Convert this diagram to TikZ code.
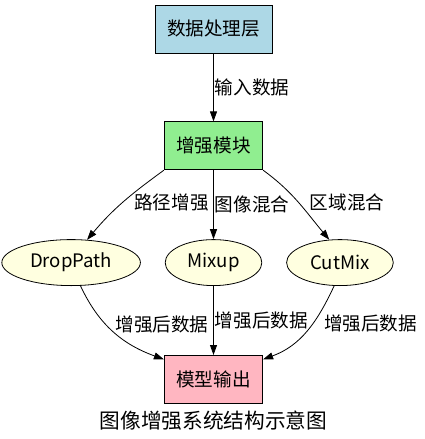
\documentclass[tikz,border=0pt]{standalone}
\usepackage{fontspec}
\setmainfont{Noto Sans CJK SC}
\usetikzlibrary{arrows.meta,positioning,shapes.geometric}
\definecolor{inblue}{RGB}{173,216,230}
\definecolor{auggreen}{RGB}{144,238,144}
\definecolor{outpink}{RGB}{255,182,193}
\definecolor{opyellow}{RGB}{255,255,224}

\begin{document}
\begin{tikzpicture}[x=1pt, y=1pt, node distance=68pt and 24pt, every node/.style={font=\fontsize{18.6}{22}\selectfont}, box/.style={draw,line width=0.8pt,inner xsep=12pt,minimum height=48pt}, op/.style={ellipse,draw,line width=0.8pt,fill=opyellow,inner xsep=8pt,minimum height=46pt}, arr/.style={-{Triangle[length=10pt,width=7pt]},line width=0.8pt}, lbl/.style={anchor=west,inner sep=1pt}]
\useasboundingbox (0,0) rectangle (424,-439);
\node[box,fill=inblue] (data) at (213.5,-29) {数据处理层};
\node[box,fill=auggreen,below=of data] (aug) {增强模块};
\node[op,below=69pt of aug] (mix) {Mixup};
\node[op,left=of mix] (drop) {DropPath};
\node[op,right=of mix] (cut) {CutMix};
\node[box,fill=outpink,below=69pt of mix] (out) {模型输出};
\node[below=4pt of out,font=\fontsize{20.7}{24}\selectfont] (cap) {图像增强系统结构示意图};
% edges
\draw[arr] (data)--node[lbl]{输入数据}(aug);
\draw[arr] (aug.south west) to[out=-144,in=50] node[lbl,pos=.5,xshift=10pt]{路径增强} (drop.55);
\draw[arr] (aug)--node[lbl]{图像混合}(mix);
\draw[arr] (aug.south east) to[out=-36,in=130] node[lbl,pos=.5,xshift=10pt]{区域混合} (cut.115);
\draw[arr] (drop.292) to[out=-65,in=160] node[lbl,pos=.4,xshift=8pt]{增强后数据} (out.158);
\draw[arr] (mix)--node[lbl]{增强后数据}(out);
\draw[arr] (cut.256) to[out=-115,in=20] node[lbl,pos=.4,xshift=10pt]{增强后数据} (out.22);
\end{tikzpicture}
\end{document}
